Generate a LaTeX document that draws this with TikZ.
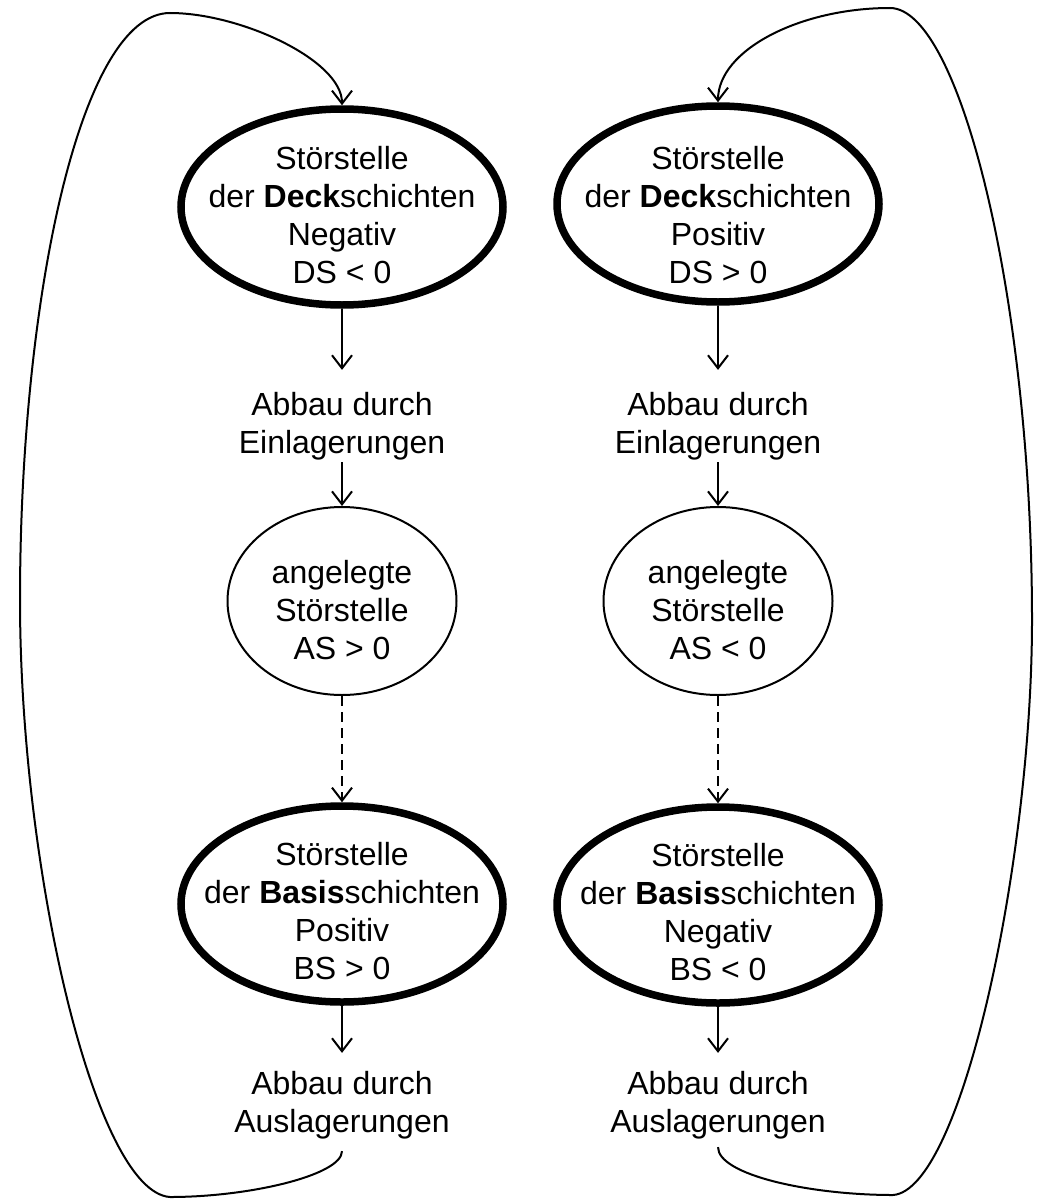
\documentclass[tikz,border=0pt]{standalone}
\usepackage{fontspec}
\setmainfont{Liberation Sans}
\usetikzlibrary{shapes.geometric,arrows.meta}
\begin{document}
\begin{tikzpicture}[x=1pt,y=-1pt,
  every node/.style={font=\fontsize{32}{38}\selectfont},
  bigstate/.style={ellipse, draw, line width=7.5pt, minimum width=322pt, minimum height=196pt, inner sep=0pt},
  smallstate/.style={ellipse, draw, line width=2pt, minimum width=229pt, minimum height=188pt, inner sep=0pt},
  txt/.style={align=center, inner sep=0pt},
  tip/.style={-{Straight Barb[length=13pt,width=20pt,line width=2pt]}},
  flow/.style={line width=2pt, tip},
  dflow/.style={line width=2pt, tip, dash pattern=on 10pt off 6pt},
]
\useasboundingbox (0,0) rectangle (1043,1199);

% ---- left column ----
\node[bigstate]   (dl)  at (342,207) {};
\node[txt]        (dlt) at (342,215) {Störstelle\\der \textbf{Deck}schichten\\Negativ\\DS < 0};
\node[txt]        (el)  at (342,426) {Abbau durch\\Einlagerungen};
\node[smallstate] (ml)  at (342,601) {};
\node[txt]        (mlt) at (342,610) {angelegte\\Störstelle\\AS > 0};
\node[bigstate]   (bl)  at (342,904) {};
\node[txt]        (blt) at (342,911) {Störstelle\\der \textbf{Basis}schichten\\Positiv\\BS > 0};
\node[txt]        (al)  at (342,1105) {Abbau durch\\Auslagerungen};

% ---- right column ----
\node[bigstate]   (dr)  at (718,204) {};
\node[txt]        (drt) at (718,215) {Störstelle\\der \textbf{Deck}schichten\\Positiv\\DS > 0};
\node[txt]        (er)  at (718,426) {Abbau durch\\Einlagerungen};
\node[smallstate] (mr)  at (718,601) {};
\node[txt]        (mrt) at (718,610) {angelegte\\Störstelle\\AS < 0};
\node[bigstate]   (br)  at (718,905) {};
\node[txt]        (brt) at (718,912) {Störstelle\\der \textbf{Basis}schichten\\Negativ\\BS < 0};
\node[txt]        (ar)  at (718,1105) {Abbau durch\\Auslagerungen};

% ---- vertical flow ----
\foreach \c in {l,r}{
  \draw[flow, shorten >=22pt] (d\c.south) -- (e\c.north);
  \draw[flow, shorten <=2pt]  (e\c.south) -- (m\c.north);
  \draw[dflow]                (m\c.south) -- (b\c.north);
  \draw[flow, shorten >=18pt] (b\c.south) -- (a\c.north);
}

% ---- feedback loops ----
\draw[flow, shorten <=12pt] (al.south)
  .. controls (342,1175) and (250,1197) .. (170,1197)
  .. controls (95,1192) and (20,870) .. (20,600)
  .. controls (20,300) and (80,13) .. (170,13)
  .. controls (240,13) and (342,60) .. (dl.north);

\draw[flow, shorten <=8pt] (ar.south)
  .. controls (718,1175) and (810,1195) .. (893,1195)
  .. controls (962,1190) and (1032,860) .. (1032,620)
  .. controls (1032,300) and (960,8) .. (890,8)
  .. controls (800,8) and (718,50) .. (dr.north);
\end{tikzpicture}
\end{document}
